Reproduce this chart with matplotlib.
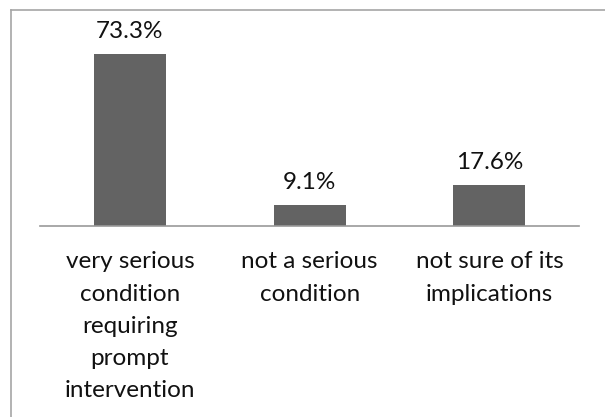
import numpy as np
import matplotlib
matplotlib.use('Agg')
import matplotlib.pyplot as plt
from matplotlib.lines import Line2D

plt.rcParams['font.family'] = ['Lato', 'DejaVu Sans']

# data
categories = ['very serious\ncondition\nrequiring\nprompt\nintervention',
              'not a serious\ncondition',
              'not sure of its\nimplications']
values = [73.3, 9.1, 17.6]
labels = ['73.3%', '9.1%', '17.6%']

W, H = 605, 417
fig = plt.figure(figsize=(W / 100, H / 100), dpi=100)
ax = fig.add_axes([40 / W, (H - 226.3) / H, 539.3 / W, 187.8 / H])

x = np.arange(len(values))
ax.bar(x, values, width=0.4, color='#636363', zorder=2)
ax.set_xlim(-0.5, len(values) - 0.5)
ax.set_ylim(0, 80)

for xi, v, lab in zip(x, values, labels):
    ax.annotate(lab, (xi, v), xytext=(0, 11.5), textcoords='offset points',
                ha='center', va='baseline', fontsize=17.5, color='#111111',
                annotation_clip=False)

ax.set_xticks(x)
ax.set_xticklabels(categories, fontsize=17.5, color='#111111', linespacing=1.66)
ax.tick_params(axis='x', length=0, pad=18)
ax.set_yticks([])
for s in ['top', 'right', 'left']:
    ax.spines[s].set_visible(False)
ax.spines['bottom'].set_color('#999999')
ax.spines['bottom'].set_linewidth(1.2)

# outer frame (only left and top edges inside the image)
fx, fy = 11 / W, 1 - 9.5 / H
fig.add_artist(Line2D([fx, fx], [0, fy], color='#a6a6a6', lw=1.2, transform=fig.transFigure))
fig.add_artist(Line2D([fx, 1], [fy, fy], color='#a6a6a6', lw=1.2, transform=fig.transFigure))

fig.savefig('out.png', dpi=100)
